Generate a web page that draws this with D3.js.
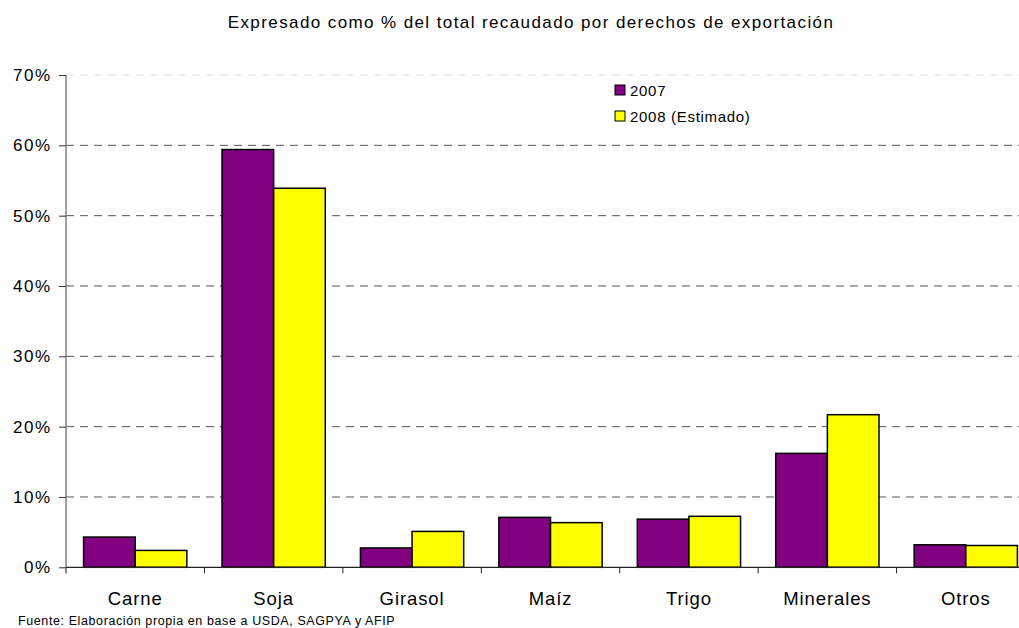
<!DOCTYPE html>
<html><head><meta charset="utf-8">
<script src="https://cdn.jsdelivr.net/npm/d3@7"></script>
<style>body{margin:0;background:#fff}svg{display:block;font-family:"Liberation Sans",Arial,sans-serif}</style>
</head><body>
<svg id="c" width="1019" height="628"></svg>
<script>
const categories = ["Carne","Soja","Girasol","Maíz","Trigo","Minerales","Otros"];
const series2007 = [4.3,59.4,2.75,7.1,6.85,16.2,3.2];
const series2008 = [2.4,53.9,5.1,6.35,7.25,21.7,3.1];
const seriesNames = ["2007","2008 (Estimado)"];
const yTicks = [0,10,20,30,40,50,60,70];

(function(){
const svg = d3.select("#c");
const mLeft = 66, mRight = 1035, mTop = 75, mBottom = 567.3;
const x = d3.scaleBand().domain(categories).range([mLeft,mRight]).paddingInner(0.254).paddingOuter(0.127);
const xs = d3.scaleBand().domain(seriesNames).range([0,x.bandwidth()]);
const y = d3.scaleLinear().domain([0,70]).range([mBottom,mTop]);
const colors = ["#800080","#ffff00"];

svg.append("text").attr("x",531).attr("y",28).attr("text-anchor","middle").attr("font-size",17).attr("letter-spacing",1.4)
  .text("Expresado como % del total recaudado por derechos de exportación");

// gridlines
svg.append("g").selectAll("line").data(yTicks.filter(d=>d>0)).join("line")
  .attr("x1",mLeft).attr("x2",1019).attr("y1",d=>y(d)).attr("y2",d=>y(d))
  .attr("stroke",(d)=>d===70?"#e0e0e0":"#555").attr("stroke-dasharray","8,6").attr("stroke-width",1);

// y axis
const ya = svg.append("g").attr("transform",`translate(${mLeft},0)`)
  .call(d3.axisLeft(y).tickValues(yTicks).tickFormat(d=>d+"%").tickSize(7).tickPadding(7.5));
ya.select(".domain").attr("stroke","#808080").attr("stroke-width",1.5).attr("d",`M0,${mTop}V${mBottom}`);
ya.selectAll(".tick line").attr("stroke","#333");
ya.selectAll("text").attr("font-size",17).attr("letter-spacing",1.5).attr("font-family","Liberation Sans, Arial").attr("fill","#000");

// bars
const data = categories.map((c,i)=>({c,vals:[series2007[i],series2008[i]]}));
const g = svg.append("g");
data.forEach(d=>{
  d.vals.forEach((v,j)=>{
    g.append("rect").attr("x",x(d.c)+xs(seriesNames[j])).attr("width",xs.bandwidth())
      .attr("y",y(v)).attr("height",y(0)-y(v))
      .attr("fill",colors[j]).attr("stroke","#000").attr("stroke-width",1.5);
  });
});

// x axis
const step = x.step();
const xa = svg.append("g");
xa.append("line").attr("x1",mLeft).attr("x2",1019).attr("y1",mBottom).attr("y2",mBottom).attr("stroke","#222").attr("stroke-width",1.2);
d3.range(categories.length+1).forEach(i=>{
  const xx = mLeft + i*step;
  xa.append("line").attr("x1",xx).attr("x2",xx).attr("y1",mBottom).attr("y2",mBottom+6).attr("stroke","#222");
});
xa.selectAll("text.cat").data(categories).join("text").attr("class","cat")
  .attr("x",d=>x(d)+x.bandwidth()/2).attr("y",605).attr("text-anchor","middle").attr("font-size",18.5).attr("letter-spacing",0.9).text(d=>d);

// legend
const lg = svg.append("g");
seriesNames.forEach((n,j)=>{
  lg.append("rect").attr("x",615).attr("y",85+j*26).attr("width",10).attr("height",10).attr("fill",colors[j]).attr("stroke","#000").attr("stroke-width",1);
  lg.append("text").attr("x",630).attr("y",96+j*26).attr("font-size",15).attr("letter-spacing",0.7).text(n);
});

svg.append("text").attr("x",18).attr("y",625).attr("font-size",12.5).attr("letter-spacing",0.6).text("Fuente: Elaboración propia en base a USDA, SAGPYA y AFIP");
})();
</script>
</body></html>
